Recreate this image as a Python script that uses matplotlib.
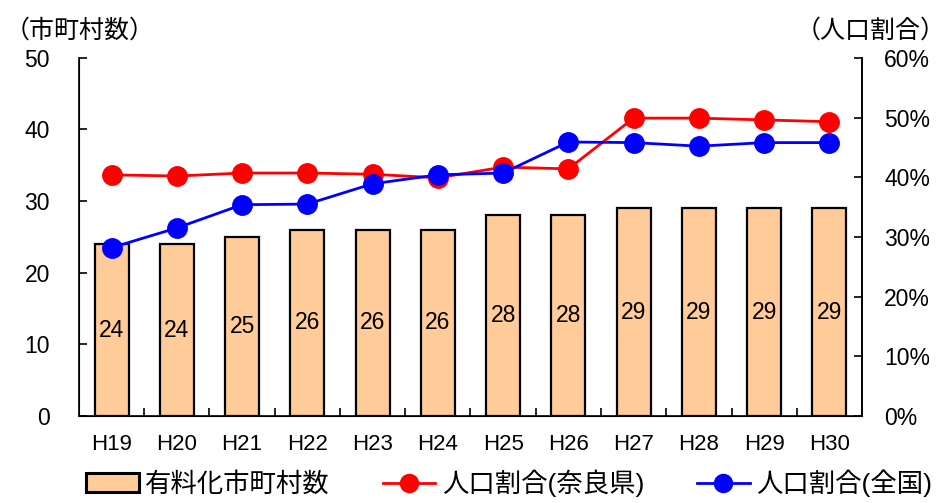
import matplotlib
matplotlib.use("Agg")
import matplotlib.pyplot as plt
from matplotlib.patches import Patch
from matplotlib.lines import Line2D

plt.rcParams['font.family'] = ['Liberation Sans', 'Noto Sans CJK JP', 'DejaVu Sans']

years = ["H19", "H20", "H21", "H22", "H23", "H24", "H25", "H26", "H27", "H28", "H29", "H30"]
towns = [24, 24, 25, 26, 26, 26, 28, 28, 29, 29, 29, 29]
nara_pct = [40.4, 40.2, 40.7, 40.7, 40.5, 39.9, 41.7, 41.4, 49.9, 49.9, 49.6, 49.3]
japan_pct = [28.2, 31.5, 35.4, 35.5, 38.9, 40.4, 40.7, 45.9, 45.8, 45.2, 45.8, 45.8]

fig = plt.figure(figsize=(9.48, 5.03), dpi=100)
ax = fig.add_axes([0.0833, 0.173, 0.826, 0.712])
x = list(range(len(years)))

ax.bar(x, towns, width=0.52, color="#FFCC99", edgecolor="black", linewidth=1.6, zorder=2)
for xi, v in zip(x, towns):
    ax.text(xi, v / 2, str(v), ha="center", va="center", fontsize=16.5)

ax.set_xlim(-0.5, len(years) - 0.5)
ax.set_ylim(0, 50)
ax.set_yticks([0, 10, 20, 30, 40, 50])
ax.set_xticks(x)
ax.set_xticklabels(years)
ax.set_xticks([i + 0.5 for i in x[:-1]], minor=True)
ax.tick_params(axis="y", direction="in", length=6, width=1.2, labelsize=16.5, pad=21)
ax.tick_params(axis="x", which="major", length=0, labelsize=16, pad=13)
ax.tick_params(axis="x", which="minor", direction="in", length=6, width=1.2)
ax.spines["top"].set_visible(False)
for s in ["left", "right", "bottom"]:
    ax.spines[s].set_linewidth(1.2)

ax2 = ax.twinx()
ax2.plot(x, nara_pct, color="red", linewidth=2, marker="o", markersize=14, zorder=3)
ax2.plot(x, japan_pct, color="blue", linewidth=2, marker="o", markersize=14, zorder=4)
ax2.set_ylim(0, 60)
ax2.set_yticks([0, 10, 20, 30, 40, 50, 60])
ax2.set_yticklabels([f"{v}%" for v in [0, 10, 20, 30, 40, 50, 60]])
ax2.tick_params(axis="y", direction="in", length=6, width=1.2, labelsize=16.5, pad=16)
ax2.spines["top"].set_visible(False)
ax2.spines["right"].set_linewidth(1.2)

fig.text(0.005, 0.94, "（市町村数）", fontsize=18, ha="left", va="center")
fig.text(0.998, 0.94, "（人口割合）", fontsize=18, ha="right", va="center")

handles = [
    Patch(facecolor="#FFCC99", edgecolor="black", linewidth=2.2),
    Line2D([], [], color="red", linewidth=2, marker="o", markersize=13),
    Line2D([], [], color="blue", linewidth=2, marker="o", markersize=13),
]
labels = ["有料化市町村数", "人口割合(奈良県)", "人口割合(全国)"]
fig.legend(handles, labels, loc="lower center", bbox_to_anchor=(0.537, -0.035), ncol=3,
           frameon=False, fontsize=19, handlelength=2.0, handletextpad=0.25, columnspacing=2.0)

fig.savefig("out.png", dpi=100)
